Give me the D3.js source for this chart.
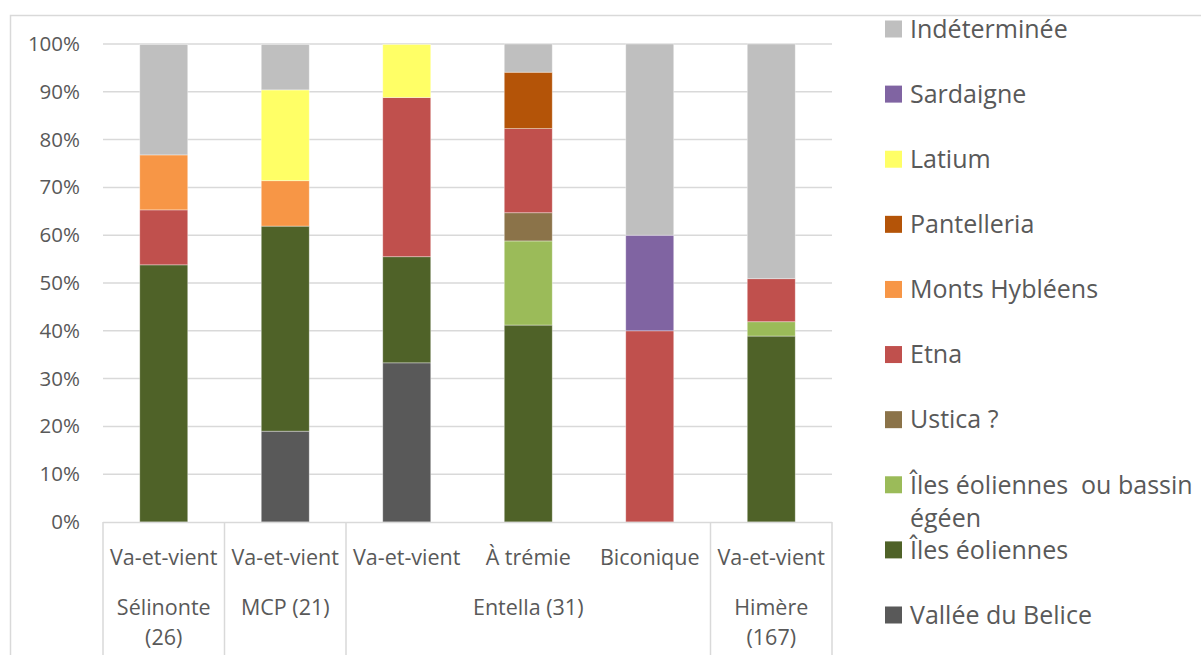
<!DOCTYPE html>
<html>
<head>
<meta charset="utf-8">
<script src="https://cdn.jsdelivr.net/npm/d3@7"></script>
<style>
  html, body { margin: 0; padding: 0; background: #fff; }
  svg { display: block; }
  text { font-family: "Open Sans", Lato, sans-serif; fill: #595959; }
</style>
</head>
<body>
<svg id="chart" width="1201" height="655"></svg>
<script>
// ---- data ----
const categories = ["Va-et-vient", "Va-et-vient", "Va-et-vient", "À trémie", "Biconique", "Va-et-vient"];
const groups = [
  { label: ["Sélinonte", "(26)"], first: 0, last: 0 },
  { label: ["MCP (21)"], first: 1, last: 1 },
  { label: ["Entella (31)"], first: 2, last: 4 },
  { label: ["Himère", "(167)"], first: 5, last: 5 }
];
// series listed from bottom of stack to top
const seriesNames = ["Vallée du Belice", "Îles éoliennes", "Îles éoliennes  ou bassin égéen", "Ustica ?", "Etna",
  "Monts Hybléens", "Pantelleria", "Latium", "Sardaigne", "Indéterminée"];
const seriesColors = ["#595959", "#4F6228", "#9BBB59", "#8B7349", "#C0504D",
  "#F79646", "#B45408", "#FFFF66", "#8064A2", "#BFBFBF"];
// values in % for each category (same order as categories)
const valBelice      = [0,    19.0, 33.3, 0,    0,  0];
const valEoliennes   = [53.8, 42.9, 22.2, 41.2, 0,  38.9];
const valEolEgeen    = [0,    0,    0,    17.6, 0,  3.0];
const valUstica      = [0,    0,    0,    5.9,  0,  0];
const valEtna        = [11.5, 0,    33.3, 17.6, 40, 9.0];
const valHybleens    = [11.5, 9.5,  0,    0,    0,  0];
const valPantelleria = [0,    0,    0,    11.8, 0,  0];
const valLatium      = [0,    19.0, 11.1, 0,    0,  0];
const valSardaigne   = [0,    0,    0,    0,    20, 0];
const valIndet       = [23.1, 9.5,  0,    5.9,  40, 49.1];
const seriesValues = [valBelice, valEoliennes, valEolEgeen, valUstica, valEtna,
  valHybleens, valPantelleria, valLatium, valSardaigne, valIndet];
const yTicks = [0, 10, 20, 30, 40, 50, 60, 70, 80, 90, 100];

// ---- layout ----
const svg = d3.select("#chart");
const W = 1201, H = 655;
const plot = { left: 103, right: 832, top: 44, bottom: 522 };

svg.append("rect").attr("width", W).attr("height", H).attr("fill", "#fff");
// chart frame (cropped at right / bottom)
svg.append("path").attr("d", `M10.5,${H} V15.5 H${W}`)
  .attr("fill", "none").attr("stroke", "#D9D9D9").attr("stroke-width", 1.5);

const idx = categories.map((d, i) => i);
const x = d3.scaleBand().domain(idx).range([plot.left, plot.right]).padding(0);
const y = d3.scaleLinear().domain([0, 100]).range([plot.bottom, plot.top]);
const color = d3.scaleOrdinal().domain(seriesNames).range(seriesColors);

// gridlines
svg.append("g").selectAll("line").data(yTicks.filter(t => t > 0)).join("line")
  .attr("x1", plot.left).attr("x2", plot.right)
  .attr("y1", d => y(d)).attr("y2", d => y(d))
  .attr("stroke", "#D9D9D9").attr("stroke-width", 1.5);

// y axis labels
const yAxis = d3.axisLeft(y).tickValues(yTicks).tickFormat(d => d + "%").tickSize(0).tickPadding(0);
const gy = svg.append("g").attr("transform", `translate(80,0)`).call(yAxis);
gy.select(".domain").remove();
gy.selectAll("text").style("font-size", "20.5px").attr("fill", "#595959")
  .style("font-family", "'Open Sans', Lato, sans-serif");

// stacked bars
const rows = idx.map(i => {
  const o = { i };
  seriesNames.forEach((s, k) => o[s] = seriesValues[k][i]);
  return o;
});
const stacked = d3.stack().keys(seriesNames)(rows);
const barW = x.bandwidth() * 0.395;
svg.append("g").selectAll("g").data(stacked).join("g")
  .attr("fill", d => color(d.key))
  .selectAll("rect").data(d => d.filter(p => p[1] - p[0] > 0)).join("rect")
  .attr("x", d => x(d.data.i) + x.bandwidth() / 2 - barW / 2)
  .attr("width", barW)
  .attr("y", d => y(d[1]))
  .attr("height", d => y(d[0]) - y(d[1]))
  .attr("stroke", "rgba(255,255,255,0.45)").attr("stroke-width", 0.8);

// x axis baseline
svg.append("line").attr("x1", plot.left).attr("x2", plot.right)
  .attr("y1", plot.bottom + 0.5).attr("y2", plot.bottom + 0.5)
  .attr("stroke", "#D9D9D9").attr("stroke-width", 1.5);

// x category labels (level 1)
svg.append("g").selectAll("text").data(categories).join("text")
  .attr("x", (d, i) => x(i) + x.bandwidth() / 2)
  .attr("y", 557).attr("dy", "0.35em").attr("text-anchor", "middle")
  .style("font-size", "21.5px").text(d => d);

// group separators
const seps = [groups[0].first].map(i => x(i)).concat(groups.map(g => x(g.last) + x.bandwidth()));
svg.append("g").selectAll("line").data(seps).join("line")
  .attr("x1", d => d).attr("x2", d => d).attr("y1", plot.bottom).attr("y2", H)
  .attr("stroke", "#D9D9D9").attr("stroke-width", 1.5);

// group labels (level 2)
const gl = svg.append("g").selectAll("text").data(groups).join("text")
  .attr("x", g => (x(g.first) + x(g.last) + x.bandwidth()) / 2)
  .attr("y", 607).attr("text-anchor", "middle").style("font-size", "21.5px");
gl.selectAll("tspan").data(g => g.label.map(t => ({ t, g }))).join("tspan")
  .attr("x", d => (x(d.g.first) + x(d.g.last) + x.bandwidth()) / 2)
  .attr("dy", (d, j) => j === 0 ? "0.35em" : "30px")
  .text(d => d.t);

// legend (top = last series)
const legendItems = seriesNames.slice().reverse();
const ly = d3.scalePoint().domain(legendItems).range([29, 615]);
const lg = svg.append("g").selectAll("g").data(legendItems).join("g")
  .attr("transform", d => `translate(885,${ly(d)})`);
lg.append("rect").attr("x", 0).attr("y", -8.5).attr("width", 17).attr("height", 17)
  .attr("fill", d => color(d));
lg.each(function (d) {
  const g = d3.select(this);
  const t = g.append("text").attr("x", 25).attr("y", 0).style("font-size", "25px");
  if (d === "Îles éoliennes  ou bassin égéen") {
    t.attr("xml:space", "preserve");
    t.append("tspan").attr("x", 25).attr("dy", "0.35em").text("Îles éoliennes  ou bassin");
    t.append("tspan").attr("x", 25).attr("dy", "33px").text("égéen");
  } else {
    t.attr("dy", "0.35em").text(d);
  }
});
</script>
</body>
</html>
